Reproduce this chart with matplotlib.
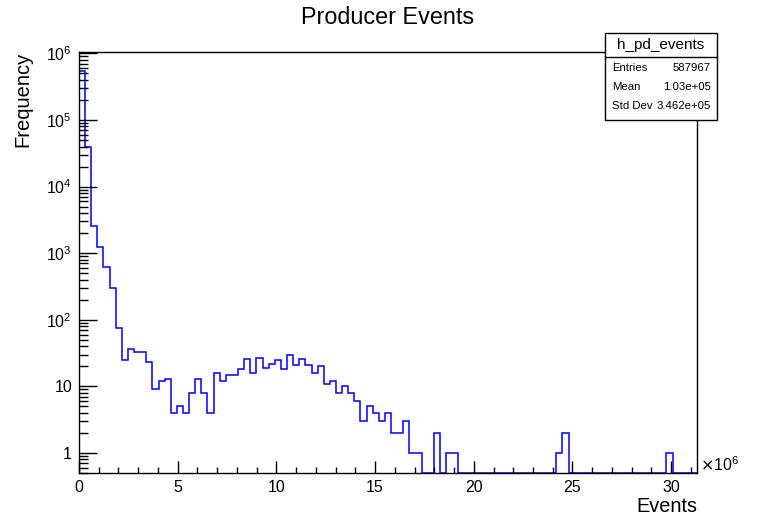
import numpy as np
import matplotlib
matplotlib.use("Agg")
import matplotlib.pyplot as plt
from matplotlib.patches import Rectangle
from matplotlib.lines import Line2D
from matplotlib.ticker import FixedLocator, FixedFormatter, MultipleLocator, LogLocator, NullFormatter

# histogram h_pd_events: 101 bins of 0.31 (x10^6 events)
bin_width = 0.31
counts = [
    543000, 39500, 2600, 1230, 630, 300, 75, 25, 36, 33,
    33, 23, 9, 12, 13, 4, 5, 4, 8, 13,
    8, 4, 16, 12, 15, 15, 18, 26, 16, 27,
    19, 22, 25, 18, 30, 21, 26, 21, 16, 20,
    11, 12, 8, 10, 8, 6, 3, 5, 4, 3,
    4, 2, 2, 3, 1, 1, 0, 0, 2, 0,
    1, 1, 0, 0, 0, 0, 0, 0, 0, 0,
    0, 0, 0, 0, 0, 0, 0, 0, 1, 2,
    0, 0, 0, 0, 0, 0, 0, 0, 0, 0,
    0, 0, 0, 0, 0, 0, 1, 0, 0, 0,
    0,
]

x_ticks = [0, 5, 10, 15, 20, 25, 30]
y_ticks = [1, 10, 100, 1e3, 1e4, 1e5, 1e6]
y_tick_labels = ["1", "10", r"$\mathdefault{10^{2}}$", r"$\mathdefault{10^{3}}$",
                 r"$\mathdefault{10^{4}}$", r"$\mathdefault{10^{5}}$", r"$\mathdefault{10^{6}}$"]

stats_name = "h_pd_events"
stats_keys = ["Entries", "Mean", "Std Dev"]
stats_vals = ["587967", "1.03e+05", "3.462e+05"]

plt.rcParams["font.family"] = ["Liberation Sans", "DejaVu Sans"]

W, H = 762, 521
fig = plt.figure(figsize=(W / 100, H / 100), dpi=100)
ax = fig.add_axes([79 / W, 1 - 473 / H, (697 - 79) / W, (473 - 52) / H])

ymin, ymax = 0.5, 1.05e6
edges = np.arange(len(counts) + 1) * bin_width
vals = np.clip(np.array(counts, dtype=float), ymin, None)
ax.stairs(vals, edges, baseline=None, color="#0000ff", linewidth=1.1)

ax.set_yscale("log")
ax.set_xlim(edges[0], edges[-1])
ax.set_ylim(ymin, ymax)

ax.xaxis.set_major_locator(FixedLocator(x_ticks))
ax.xaxis.set_minor_locator(MultipleLocator(1))
ax.yaxis.set_major_locator(FixedLocator(y_ticks))
ax.yaxis.set_major_formatter(FixedFormatter(y_tick_labels))
ax.yaxis.set_minor_locator(LogLocator(base=10, subs=np.arange(2, 10)))
ax.yaxis.set_minor_formatter(NullFormatter())

ax.tick_params(axis="x", which="major", direction="in", length=9, width=1, labelsize=11.5, pad=5)
ax.tick_params(axis="x", which="minor", direction="in", length=4.5, width=1)
ax.tick_params(axis="y", which="major", direction="in", length=13, width=1, labelsize=11.5, pad=5)
ax.tick_params(axis="y", which="minor", direction="in", length=6.5, width=1)
for s in ax.spines.values():
    s.set_linewidth(1.0)

ax.set_xlabel("Events", fontsize=14.3, loc="right")
ax.xaxis.set_label_coords(1.0, -0.058)
ax.set_ylabel("Frequency", fontsize=14.5, loc="top")
ax.yaxis.set_label_coords(-0.075, 1.0)

fig.text(700 / W, 1 - 465 / H, r"$\times\mathdefault{10^{6}}$", fontsize=11.5, ha="left", va="center")
fig.text(387.5 / W, 1 - 18 / H, "Producer Events", fontsize=16.8, ha="center", va="center")

# stats box
bx0, bx1, by0, by1, bsep = 605, 717, 33, 120, 57
fig.add_artist(Rectangle((bx0 / W, 1 - by1 / H), (bx1 - bx0) / W, (by1 - by0) / H,
                         transform=fig.transFigure, facecolor="white", edgecolor="black",
                         linewidth=1.0, zorder=5))
fig.add_artist(Line2D([bx0 / W, bx1 / W], [1 - bsep / H, 1 - bsep / H],
                      transform=fig.transFigure, color="black", linewidth=1.0, zorder=6))
fig.text((bx0 + bx1) / 2 / W, 1 - 45 / H, stats_name, fontsize=11, ha="center", va="center", zorder=7)
for i, (k, v) in enumerate(zip(stats_keys, stats_vals)):
    yy = 1 - (68 + 19 * i) / H
    fig.text(612 / W, yy, k, fontsize=8.2, ha="left", va="center", zorder=7)
    fig.text(711 / W, yy, v, fontsize=8.2, ha="right", va="center", zorder=7)

fig.savefig("out.png", dpi=100)
